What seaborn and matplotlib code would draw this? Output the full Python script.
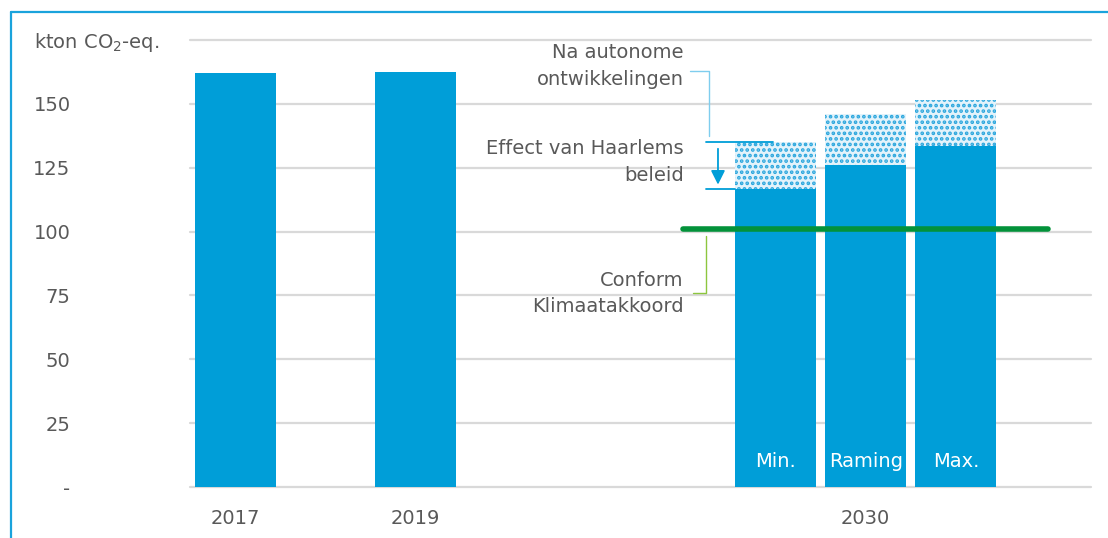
import matplotlib
matplotlib.use("Agg")
import matplotlib.pyplot as plt
from matplotlib.lines import Line2D
import seaborn as sns
import pandas as pd

# ---- data ----
categories = ["2017", "2019", "Min.", "Raming", "Max."]
slots = [0, 2, 6, 7, 8]                      # slot index of each bar on the axis
solid_values = [162.0, 162.5, 116.5, 126.0, 133.5]   # kton CO2-eq.
total_2030 = [135.0, 146.0, 151.5]           # incl. autonomous developments
scenario_labels = ["Min.", "Raming", "Max."]
target_value = 101.0                          # Conform Klimaatakkoord
yticks = [0, 25, 50, 75, 100, 125, 150, 175]
ytick_labels = ["-", "25", "50", "75", "100", "125", "150", ""]
xtick_slots = [0, 2, 7]
xtick_labels = ["2017", "2019", "2030"]

BLUE = "#009ed8"
GREEN = "#03923a"
LGREEN = "#8dc63f"
LBLUE = "#7fcdee"
GREY = "#595959"
FS = 14

sns.set_theme(style="white")
plt.rcParams["font.family"] = ["DejaVu Sans"]
plt.rcParams["hatch.linewidth"] = 1.8

fig = plt.figure(figsize=(11.08, 5.38), dpi=100)
ax = fig.add_axes([190 / 1108, 51 / 538, (1091 - 190) / 1108, (487 - 40) / 538])

df_solid = pd.DataFrame({"slot": slots, "value": solid_values, "cat": categories})
df_total = pd.DataFrame({"slot": slots[2:], "value": total_2030})

# dotted totals
sns.barplot(data=df_total, x="slot", y="value", native_scale=True, orient="x",
            width=0.9, color="#e3f3fb", saturation=1, ax=ax, errorbar=None,
            hatch="...", edgecolor="#2aa6dd", linewidth=0, zorder=2)
# solid bars
sns.barplot(data=df_solid, x="slot", y="value", native_scale=True, orient="x",
            width=0.9, color=BLUE, saturation=1, ax=ax, errorbar=None,
            linewidth=0, zorder=3)

ax.set_xlim(-0.5, 9.5)
ax.set_ylim(0, 175)
ax.set_yticks(yticks)
ax.set_yticklabels(ytick_labels)
ax.set_xticks(xtick_slots)
ax.set_xticklabels(xtick_labels)
ax.set_xlabel("")
ax.set_ylabel("")
ax.grid(axis="y", color="#d9d9d9", linewidth=1.6, zorder=0)
for gl in ax.get_ygridlines():
    gl.set_clip_on(False)
ax.set_axisbelow(True)
for s in ax.spines.values():
    s.set_visible(False)
ax.tick_params(axis="y", length=0, pad=86, labelsize=FS, labelcolor=GREY)
ax.tick_params(axis="x", length=0, pad=16, labelsize=FS, labelcolor=GREY)

# unit label
fig.text(34 / 1108, 1 - 42 / 538, "kton CO$_2$-eq.", fontsize=FS, color=GREY,
         ha="left", va="center")

# target line
ax.plot([4.97, 9.02], [target_value, target_value], color=GREEN, lw=4,
        solid_capstyle="round", zorder=5)

# scenario labels in bars
for s, lab in zip(slots[2:], scenario_labels):
    ax.text(s, 10, lab, color="white", fontsize=FS, ha="center", va="center", zorder=6)

# annotations
txt_kw = dict(fontsize=FS, color=GREY, ha="right", va="center")
ax.text(4.98, 170.3, "Na autonome", **txt_kw)
ax.text(4.98, 159.4, "ontwikkelingen", **txt_kw)
ax.plot([5.05, 5.26, 5.26], [162.9, 162.9, 137.4], color=LBLUE, lw=1, zorder=4)

ax.text(4.98, 132.7, "Effect van Haarlems", **txt_kw)
ax.text(4.98, 121.8, "beleid", **txt_kw)
ax.plot([5.23, 5.97], [total_2030[0], total_2030[0]], color=BLUE, lw=1.3, zorder=4)
ax.plot([5.23, 5.55], [solid_values[2], solid_values[2]], color=BLUE, lw=1.3, zorder=4)
ax.annotate("", xy=(5.36, solid_values[2] + 0.8), xytext=(5.36, total_2030[0] - 1.5),
            arrowprops=dict(arrowstyle="-|>,head_length=0.7,head_width=0.35",
                            color=BLUE, lw=1.3), zorder=4)

ax.text(4.98, 81.0, "Conform", **txt_kw)
ax.text(4.98, 70.5, "Klimaatakkoord", **txt_kw)
ax.plot([5.23, 5.23, 5.08], [98.3, 76.0, 76.0], color=LGREEN, lw=1, zorder=4)

# frame lines of the slide box
fig.add_artist(Line2D([10.5 / 1108, 1.0], [1 - 11.5 / 538, 1 - 11.5 / 538],
                      transform=fig.transFigure, color="#1aa3dc", lw=1.6))
fig.add_artist(Line2D([10.5 / 1108, 10.5 / 1108], [0, 1 - 11.5 / 538],
                      transform=fig.transFigure, color="#1aa3dc", lw=1.6))

fig.savefig("out.png", dpi=100)
